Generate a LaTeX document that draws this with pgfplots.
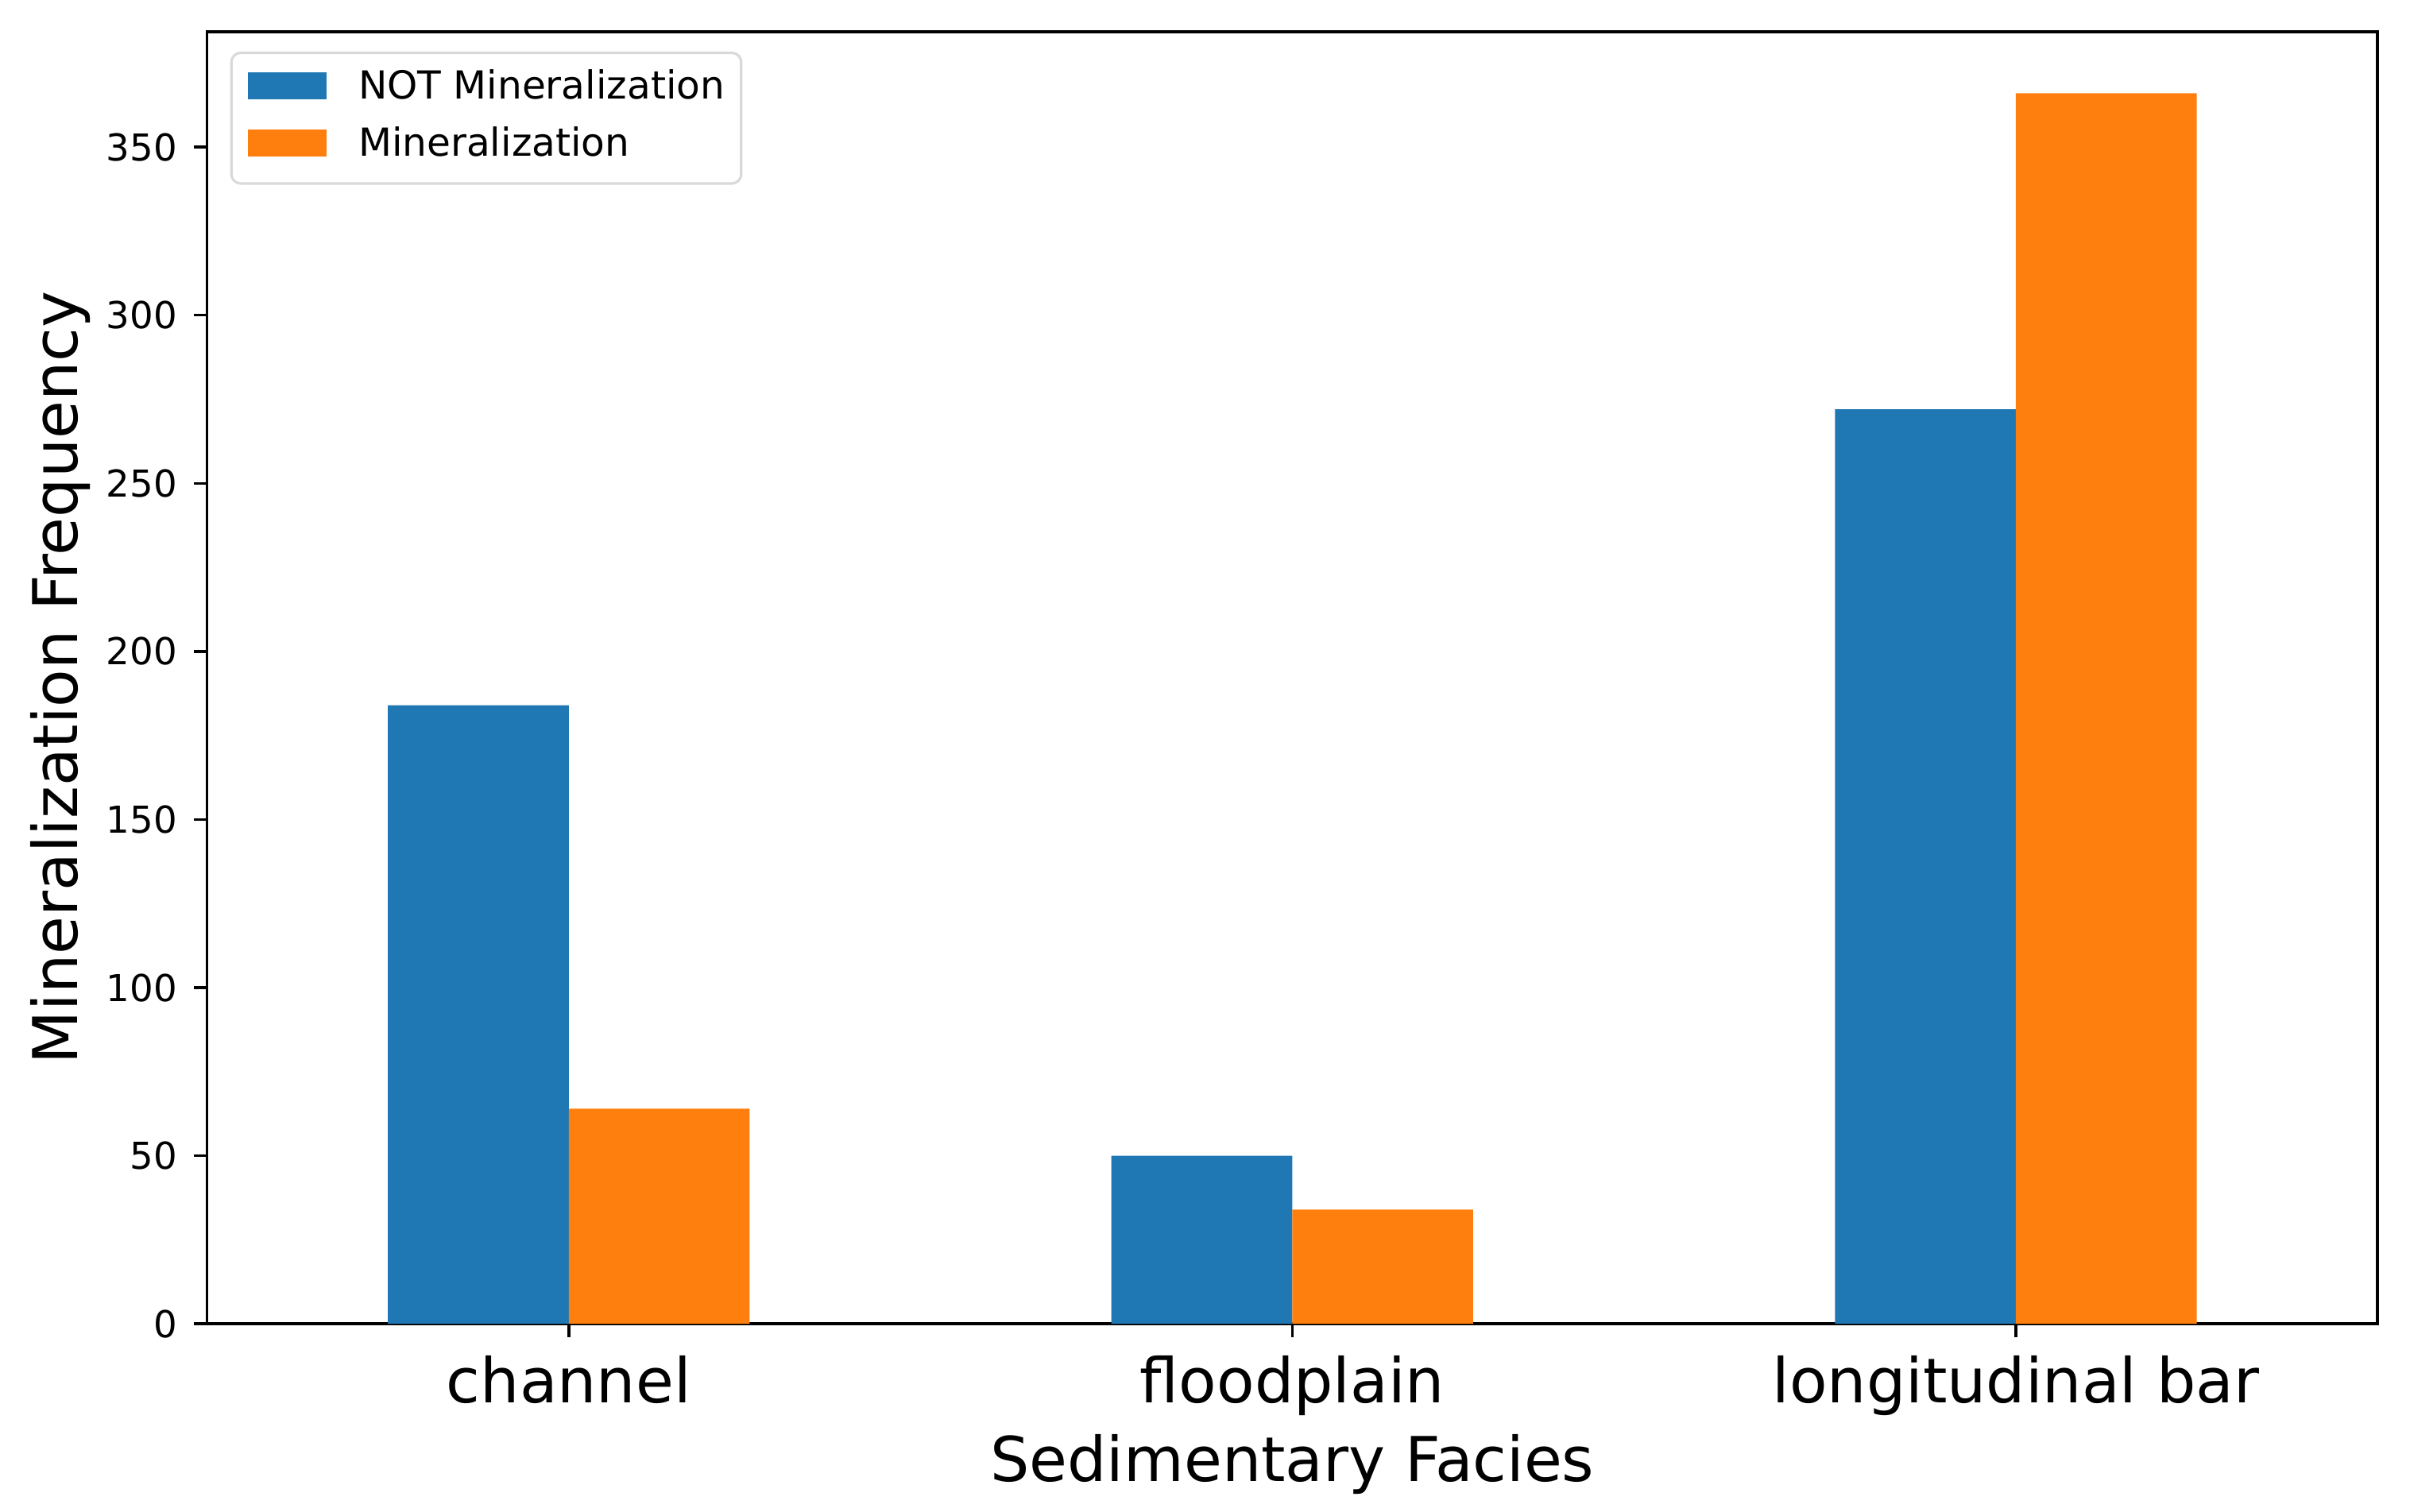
\documentclass[border=0pt]{standalone}
\usepackage{fontspec}
\setmainfont{DejaVu Sans}
\usepackage{pgfplots}
\pgfplotsset{compat=1.18}
\definecolor{tabblue}{HTML}{1F77B4}
\definecolor{taborange}{HTML}{FF7F0E}
\pgfplotsset{patchlegend/.style={legend image code/.code={\fill[##1, sharp corners] (0pt,0pt) rectangle (25.5pt,8.8pt);}}}
\begin{document}
\begin{tikzpicture}
\useasboundingbox (-67pt,-60.7pt) rectangle (713pt,428.5pt);
\begin{axis}[
  name=ax, at={(0,0)}, anchor=south west,
  width=702.5pt, height=418.2pt, scale only axis,
  xmin=-0.5, xmax=2.5, ymin=0, ymax=384.3,
  ybar, bar width=0.25,
  xtick={0,1,2}, xticklabels={channel,floodplain,longitudinal bar},
  ytick={0,50,...,350},
  tick align=outside, tick pos=left,
  major tick length=4.3pt,
  tick style={black, line width=0.9pt},
  axis line style={line width=0.9pt},
  /pgf/number format/assume math mode=true,
  xticklabel style={anchor=base, inner sep=0pt, yshift=-21.2pt, font=\fontsize{20}{24}\selectfont},
  yticklabel style={anchor=east, inner sep=0pt, xshift=-5.2pt, font=\fontsize{12}{14}\selectfont},
  xlabel={Sedimentary Facies},
  xlabel style={at={(axis description cs:0.5,0)}, anchor=base, inner sep=0pt, yshift=-50.9pt, font=\fontsize{20}{24}\selectfont},
  ylabel={Mineralization Frequency},
  ylabel style={at={(axis description cs:-0.0598,0.5)}, anchor=base, inner sep=0pt, font=\fontsize{20}{24}\selectfont},
  legend cell align=left,
  legend style={at={(0,1)}, anchor=north west, xshift=7.5pt, yshift=-6.4pt,
    draw=black!15, line width=0.8pt, rounded corners=3pt, fill=white,
    inner xsep=5.3pt, inner ysep=4pt, row sep=2.7pt, column sep=10.3pt,
    font=\fontsize{12.5}{15}\selectfont,
    cells={anchor=base west},
    nodes={inner sep=0pt, text height=11pt, text depth=4.8pt}},
]
\addplot[fill=tabblue, draw=none, bar shift=-0.125, patchlegend]
  coordinates {(0,184) (1,50) (2,272)};
\addlegendentry{NOT Mineralization}
\addplot[fill=taborange, draw=none, bar shift=0.125, patchlegend]
  coordinates {(0,64) (1,34) (2,366)};
\addlegendentry{Mineralization}
\end{axis}
\end{tikzpicture}
\end{document}
